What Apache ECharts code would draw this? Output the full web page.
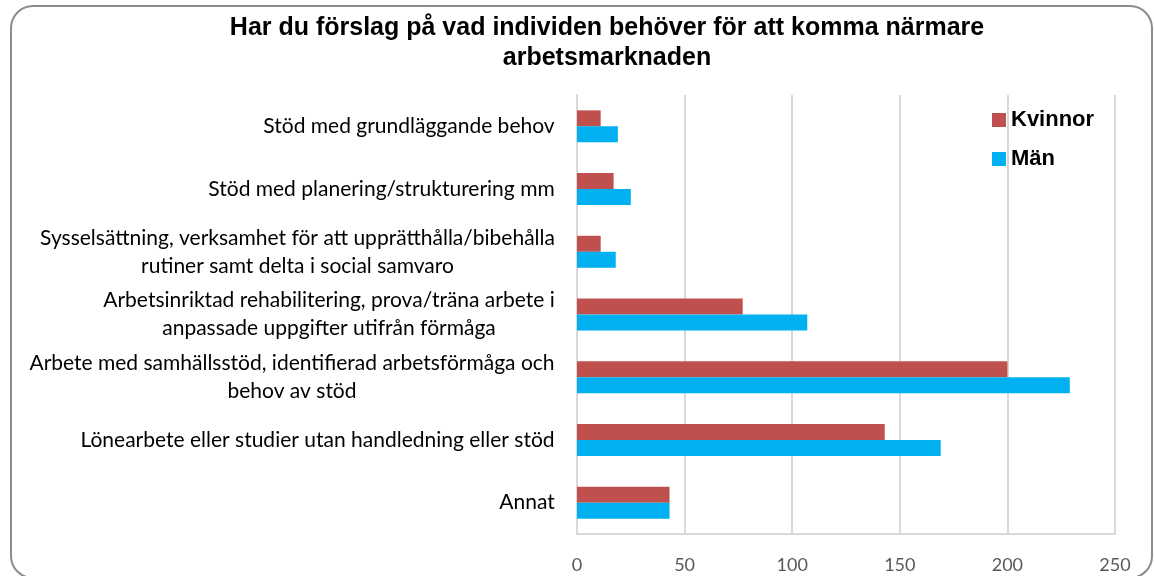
<!DOCTYPE html>
<html>
<head>
<meta charset="utf-8">
<script src="https://cdn.jsdelivr.net/npm/echarts@6/dist/echarts.min.js"></script>
<style>
  html, body { margin: 0; padding: 0; background: #fff; }
  #main { width: 1154px; height: 576px; }
</style>
</head>
<body>
<div id="main"></div>
<script>
var categories = [
  "Stöd med grundläggande behov",
  "Stöd med planering/strukturering mm",
  "Sysselsättning, verksamhet för att upprätthålla/bibehålla\nrutiner samt delta i social samvaro",
  "Arbetsinriktad rehabilitering, prova/träna arbete i\nanpassade uppgifter utifrån förmåga",
  "Arbete med samhällsstöd, identifierad arbetsförmåga och\nbehov av stöd",
  "Lönearbete eller studier utan handledning eller stöd",
  "Annat"
];
var kvinnor = [11, 17, 11, 77, 200, 143, 43];
var man = [19, 25, 18, 107, 229, 169, 43];
var titleText = "Har du förslag på vad individen behöver för att komma närmare\narbetsmarknaden";

var labelFont = "21px Lato";

// measure widest line of each label so the lines can be centred in a right-aligned block
var ctx = document.createElement("canvas").getContext("2d");
ctx.font = labelFont;
var rich = {};
categories.forEach(function (c, i) {
  var w = 0;
  c.split("\n").forEach(function (l) {
    w = Math.max(w, ctx.measureText(l).width);
  });
  rich["r" + i] = {
    width: Math.ceil(w),
    align: "center",
    fontFamily: "Lato",
    fontSize: 21,
    lineHeight: 28,
    color: "#000"
  };
});

var chart = echarts.init(document.getElementById("main"));
chart.setOption({
  animation: false,
  backgroundColor: "#fff",
  title: {
    text: titleText,
    left: 602,
    textAlign: "center",
    top: 8,
    textStyle: {
      fontFamily: "Liberation Sans",
      fontWeight: "bold",
      fontSize: 25,
      lineHeight: 30,
      color: "#000"
    }
  },
  graphic: [{
    type: "rect",
    shape: { x: 11, y: 6, width: 1141, height: 572, r: 22 },
    style: { fill: "none", stroke: "#8c8c8c", lineWidth: 2 },
    z: -1
  }],
  legend: {
    orient: "vertical",
    left: 987,
    top: 104,
    itemWidth: 14,
    itemHeight: 14,
    itemGap: 17,
    icon: "rect",
    textStyle: {
      fontFamily: "Liberation Sans",
      fontWeight: "bold",
      fontSize: 22,
      color: "#000"
    }
  },
  grid: {
    left: 577,
    right: 39,
    top: 95,
    bottom: 42
  },
  xAxis: {
    type: "value",
    min: 0,
    max: 250,
    interval: 50,
    axisLine: { show: true, lineStyle: { color: "#d9d9d9", width: 2 } },
    axisTick: { show: false },
    splitLine: { show: true, lineStyle: { color: "#d9d9d9", width: 2 } },
    axisLabel: {
      fontFamily: "Lato",
      fontSize: 18,
      color: "#595959",
      margin: 22
    }
  },
  yAxis: {
    type: "category",
    inverse: true,
    data: categories,
    axisLine: { show: true, lineStyle: { color: "#d9d9d9", width: 2 } },
    axisTick: { show: false },
    axisLabel: {
      align: "right",
      margin: 22,
      rich: rich,
      formatter: function (v, i) {
        return v.split("\n").map(function (l) {
          return "{r" + i + "|" + l + "}";
        }).join("\n");
      }
    }
  },
  series: [
    {
      name: "Kvinnor",
      type: "bar",
      data: kvinnor,
      barWidth: 16,
      barGap: "0%",
      itemStyle: { color: "#c0504d" }
    },
    {
      name: "Män",
      type: "bar",
      data: man,
      barWidth: 16,
      barGap: "0%",
      itemStyle: { color: "#00b0f0" }
    }
  ]
});
</script>
</body>
</html>
